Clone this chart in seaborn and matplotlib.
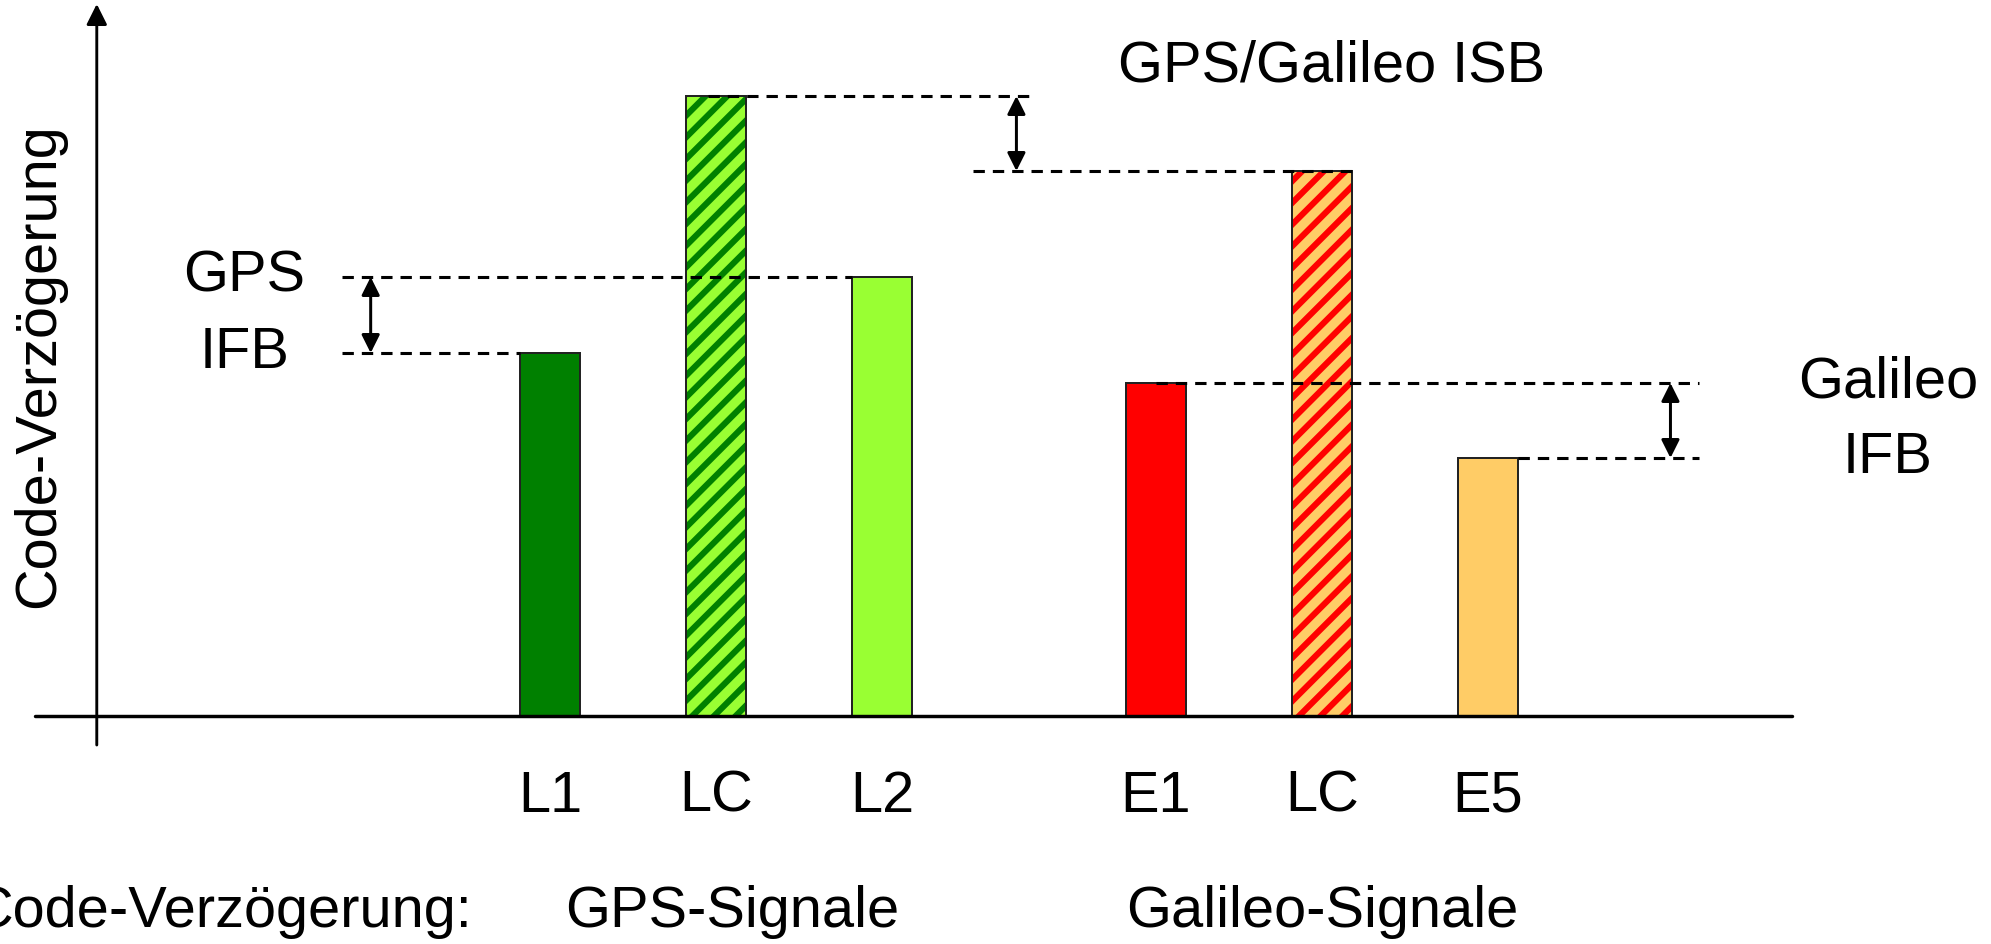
import numpy as np
import pandas as pd
import matplotlib
matplotlib.use("Agg")
import matplotlib.pyplot as plt
from matplotlib.patches import Rectangle
import seaborn as sns

# data (arbitrary delay units)
bar_ids = ["GPS L1", "GPS LC", "GPS L2", "GAL E1", "GAL LC", "GAL E5"]
tick_labels = ["L1", "LC", "L2", "E1", "LC", "E5"]
delays = [3.63, 6.20, 4.39, 3.33, 5.45, 2.58]
group_labels = ["GPS-Signale", "Galileo-Signale"]

# layout / style
bar_pos = np.array([0.0, 1.0, 2.0, 3.65, 4.65, 5.65])
face_colors = ["#008000", "#99FF33", "#99FF33", "#FF0000", "#FFCC66", "#FFCC66"]
hatch_colors = [None, "#008000", None, None, "#FF0000", None]
bar_w = 0.36

DPI = 130
sns.set_theme(style="white")
plt.rcParams["font.family"] = ["Liberation Sans", "DejaVu Sans"]
plt.rcParams["text.color"] = "black"
plt.rcParams["hatch.linewidth"] = 3.4

df = pd.DataFrame({"signal": bar_ids, "pos": bar_pos, "delay": delays})

fig = plt.figure(figsize=(1991 / DPI, 944 / DPI), dpi=DPI)
ax = fig.add_axes([0, 0, 1, 1])

sns.barplot(data=df, x="pos", y="delay", hue="signal", hue_order=bar_ids,
            palette=dict(zip(bar_ids, face_colors)), native_scale=True,
            dodge=False, width=bar_w, legend=False, ax=ax,
            edgecolor="#222222", linewidth=1.1, saturation=1)

# hatched bars (LC combinations): stripes in the hatch colour, dark outline on top
for bar in list(ax.patches):
    cx = bar.get_x() + bar.get_width() / 2
    i = int(np.argmin(np.abs(bar_pos - cx)))
    if hatch_colors[i]:
        bar.set_hatch("//")
        bar.set_edgecolor(hatch_colors[i])
        bar.set_linewidth(0)
        ax.add_patch(Rectangle((bar.get_x(), bar.get_y()), bar.get_width(),
                               bar.get_height(), fill=False,
                               edgecolor="#222222", lw=1.1, zorder=3))

ax.set_xlim(-3.313, 8.681)
ax.set_ylim(-2.28, 7.16)
ax.axis("off")

# axes drawn by hand
ax.plot([-3.10, 7.48], [0, 0], color="black", lw=1.9, zorder=4)
ax.annotate("", xy=(-2.73, 7.12), xytext=(-2.73, -0.29),
            arrowprops=dict(arrowstyle="-|>", color="black", lw=1.6,
                            mutation_scale=24, shrinkA=0, shrinkB=0))

dash = dict(color="black", lw=1.7, dashes=(3.7, 2.6), zorder=5)
arrow = dict(arrowstyle="<|-|>", color="black", lw=1.65,
             mutation_scale=21, shrinkA=0, shrinkB=0)

d = dict(zip(bar_ids, delays))
h = bar_w / 2

# GPS IFB
ax.plot([-1.25, bar_pos[2] - h], [d["GPS L2"]] * 2, **dash)
ax.plot([-1.25, bar_pos[0] - h], [d["GPS L1"]] * 2, **dash)
ax.annotate("", xy=(-1.08, d["GPS L2"]), xytext=(-1.08, d["GPS L1"]), arrowprops=arrow)
ax.text(-1.84, d["GPS L2"], "GPS", ha="center", va="center", fontsize=32)
ax.text(-1.84, d["GPS L1"], "IFB", ha="center", va="center", fontsize=32)

# GPS/Galileo ISB
ax.plot([bar_pos[1] - 0.05, 2.92], [d["GPS LC"]] * 2, **dash)
ax.plot([2.55, bar_pos[4] + h], [d["GAL LC"]] * 2, **dash)
ax.annotate("", xy=(2.81, d["GPS LC"]), xytext=(2.81, d["GAL LC"]), arrowprops=arrow)
ax.text(bar_pos[4] + 0.06, d["GPS LC"] + 0.29, "GPS/Galileo ISB",
        ha="center", va="center", fontsize=32)

# Galileo IFB
ax.plot([bar_pos[3], 6.92], [d["GAL E1"]] * 2, **dash)
ax.plot([bar_pos[5] + h, 6.92], [d["GAL E5"]] * 2, **dash)
ax.annotate("", xy=(6.75, d["GAL E1"]), xytext=(6.75, d["GAL E5"]), arrowprops=arrow)
ax.text(8.06, d["GAL E1"], "Galileo", ha="center", va="center", fontsize=32)
ax.text(8.06, d["GAL E5"], "IFB", ha="center", va="center", fontsize=32)

# labels
for p, lab in zip(bar_pos, tick_labels):
    ax.text(p, -0.81, lab, ha="center", va="center", fontsize=32)

ax.text(-3.08, 3.50, "Code-Verzögerung", rotation=90, ha="center",
        va="center", fontsize=32)
ax.text(-0.47, -1.96, "Code-Verzögerung:", ha="right", va="center", fontsize=32)
ax.text(1.10, -1.96, group_labels[0], ha="center", va="center", fontsize=32)
ax.text(bar_pos[4], -1.96, group_labels[1], ha="center", va="center", fontsize=32)

fig.savefig("out.png", dpi=DPI)
plt.close(fig)
print("[SAVED] out.png")
